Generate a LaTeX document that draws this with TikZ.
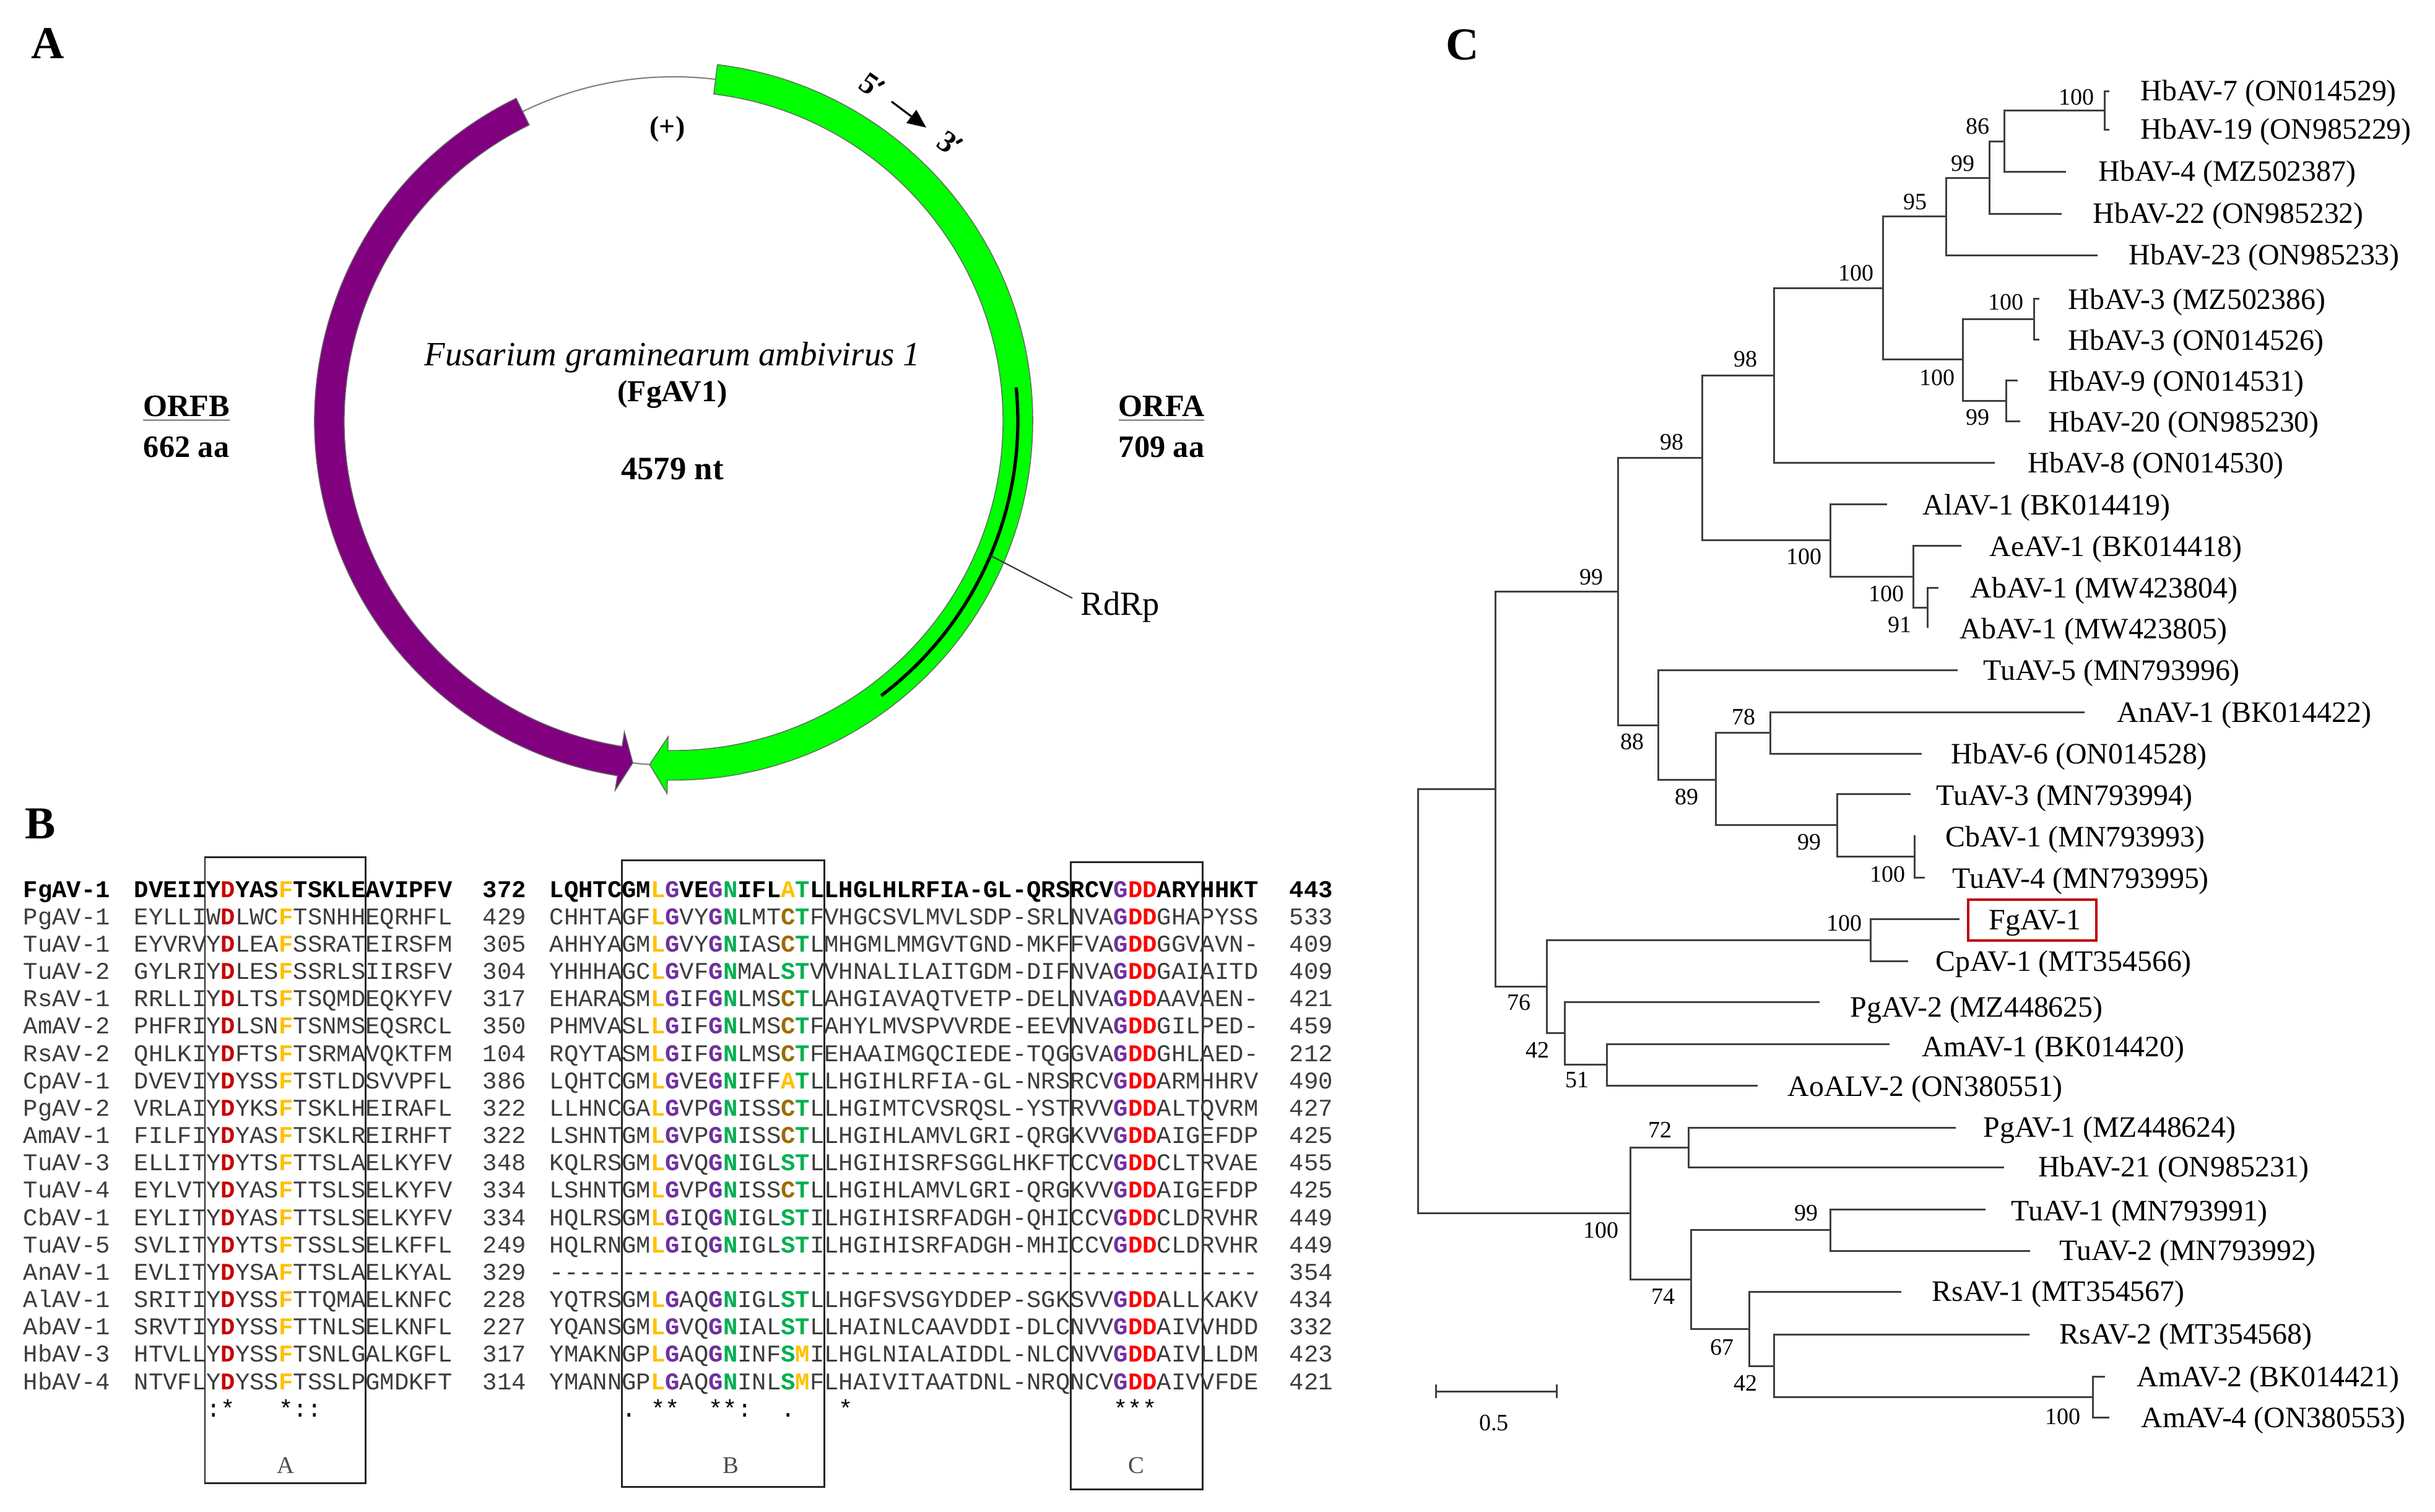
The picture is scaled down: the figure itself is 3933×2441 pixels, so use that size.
\documentclass[tikz,border=0pt]{standalone}
\usepackage{fontspec}
\setmainfont{Liberation Serif}
\setmonofont{Liberation Mono}
\usetikzlibrary{arrows.meta}
\definecolor{orfgreen}{RGB}{0,255,0}
\definecolor{orfpurple}{RGB}{128,0,128}
\definecolor{alred}{RGB}{200,0,0}
\definecolor{albright}{RGB}{255,0,0}
\definecolor{alyellow}{RGB}{255,192,0}
\definecolor{alpurple}{RGB}{112,48,160}
\definecolor{algreen}{RGB}{0,176,80}
\definecolor{albrown}{RGB}{156,108,0}
\definecolor{seqgray}{RGB}{60,60,60}
\definecolor{boxred}{RGB}{192,0,0}
\newcommand\hR[1]{\textcolor{alred}{\textbf{#1}}}
\newcommand\hRR[1]{\textcolor{albright}{\textbf{#1}}}
\newcommand\hY[1]{\textcolor{alyellow}{\textbf{#1}}}
\newcommand\hP[1]{\textcolor{alpurple}{\textbf{#1}}}
\newcommand\hG[1]{\textcolor{algreen}{\textbf{#1}}}
\newcommand\hB[1]{\textcolor{albrown}{\textbf{#1}}}
\newcommand\arow[7][seq]{%
  \pgfmathsetmacro\ry{1449+44.17*#2}%
  \node[#1] (nm#2) at (37,\ry) {#3};
  \node[#1] (sa#2) at (216,\ry) {#4};
  \node[#1] (na#2) at (779,\ry) {#5};
  \node[#1] (sb#2) at (887,\ry) {#6};
  \node[#1] (nb#2) at (2082,\ry) {#7};
}
\tikzset{
  seq/.style={anchor=base west, inner sep=0, text=seqgray, font=\ttfamily\fontsize{11.07}{12}\selectfont},
  seqb/.style={seq, text=black, font=\ttfamily\bfseries\fontsize{11.07}{12}\selectfont},
  tree/.style={draw=black!75, line width=0.85pt},
  leaf/.style={anchor=base west, inner sep=0, font=\fontsize{13.6}{15}\selectfont},
  bs/.style={inner sep=0, font=\fontsize{10.8}{12}\selectfont},
  panel/.style={inner sep=0, font=\fontsize{21}{24}\selectfont\bfseries},
  gtext/.style={inner sep=0, font=\fontsize{14.3}{17}\selectfont},
  motif/.style={draw=black!85, line width=0.85pt},
}
\begin{document}
\begin{tikzpicture}[x=0.01cm, y=-0.01cm]
\useasboundingbox (0,0) rectangle (3933,2441);

% ---------------- Panel labels
\node[panel] (pA) at (77,70) {A};
\node[panel] (pB) at (65,1330) {B};
\node[panel] (pC) at (2362,72) {C};

% ---------------- Panel A: genome map
\begin{scope}[shift={(1088,680)}, x=0.01cm, y=0.01cm]
  \draw[gray, line width=0.6pt] (0,0) circle[radius=556];
  \filldraw[fill=orfgreen, draw=black!60, line width=0.4pt]
    (83:580) arc[start angle=83, end angle=-91, radius=580]
    -- (-91:602) -- (-94:556) -- (-91:510) -- (-91:532)
    arc[start angle=-91, end angle=83, radius=532] -- cycle;
  \filldraw[fill=orfpurple, draw=black!60, line width=0.4pt]
    (116:580) arc[start angle=116, end angle=261, radius=580]
    -- (261:604) -- (263.2:556) -- (261:508) -- (261:532)
    arc[start angle=261, end angle=116, radius=532] -- cycle;
  \draw[line width=1.5pt] (5.6:556) arc[start angle=5.6, end angle=-52.9, radius=556];
  \coordinate (rd1) at (-23:556);
\end{scope}
\coordinate (rd2) at (1732,966);
\draw[black!80, line width=0.6pt] (rd1) -- (rd2);
\node[gtext, anchor=west, font=\fontsize{15.5}{18}\selectfont] (rdrp) at (1745,980) {RdRp};

\node[gtext, font=\fontsize{13}{15}\selectfont\bfseries] (plus) at (1078,208) {(+)};
\node[gtext, font=\fontsize{15.6}{18}\selectfont\itshape] (fus) at (1086,577) {Fusarium graminearum ambivirus 1};
\node[gtext, font=\fontsize{14}{17}\selectfont\bfseries] (fgav) at (1086,637) {(FgAV1)};
\node[gtext, font=\fontsize{15}{17}\selectfont\bfseries] (nt) at (1086,757) {4579 nt};
\node[gtext, font=\fontsize{14.3}{17}\selectfont\bfseries] (orfb) at (301,660) {\underline{ORFB}};
\node[gtext, font=\fontsize{14.3}{17}\selectfont\bfseries] (orfbaa) at (301,722) {662 aa};
\node[gtext, font=\fontsize{14.3}{17}\selectfont\bfseries] (orfa) at (1876,660) {\underline{ORFA}};
\node[gtext, font=\fontsize{14.3}{17}\selectfont\bfseries] (orfaaa) at (1876,722) {709 aa};
% 5' -> 3' (primes drawn as small strokes)
\begin{scope}[shift={(1404,136)}, rotate=-35]
  \node[gtext, transform shape, font=\fontsize{14}{17}\selectfont\bfseries] (p5) at (0,0) {5};
  \draw[line width=1.4pt] (13,-7) -- (18,-17);
\end{scope}
\begin{scope}[shift={(1530,229)}, rotate=-35]
  \node[gtext, transform shape, font=\fontsize{14}{17}\selectfont\bfseries] (p3) at (0,0) {3};
  \draw[line width=1.4pt] (13,-7) -- (18,-17);
\end{scope}
\coordinate (ar1) at (1440,164);
\coordinate (ar2) at (1496,206);
\draw[line width=0.9pt, -{Triangle[length=3mm, width=2.6mm]}] (ar1) -- (ar2);

% ---------------- Panel B: alignment
\draw[motif] (331,1384) rectangle (590,2395);
\draw[motif] (1004,1389) rectangle (1331,2401);
\draw[motif] (1729,1392) rectangle (1942,2405);
\node[inner sep=0, text=black!70, font=\fontsize{11}{13}\selectfont] (mA) at (461,2367) {A};
\node[inner sep=0, text=black!70, font=\fontsize{11}{13}\selectfont] (mB) at (1180,2367) {B};
\node[inner sep=0, text=black!70, font=\fontsize{11}{13}\selectfont] (mC) at (1835,2367) {C};

\arow[seqb]{0}{FgAV-1}{DVEIIY\hR{D}YAS\hY{F}TSKLEAVIPFV}{372}{LQHTCGM\hY{L}\hP{G}VE\hP{G}\hG{N}IFL\hY{A}\hG{T}LLHGLHLRFIA-GL-QRSRCV\hP{G}\hRR{DD}ARYHHKT}{443}
\arow{1}{PgAV-1}{EYLLIW\hR{D}LWC\hY{F}TSNHHEQRHFL}{429}{CHHTAGF\hY{L}\hP{G}VY\hP{G}\hG{N}LMT\hB{C}\hG{T}FVHGCSVLMVLSDP-SRLNVA\hP{G}\hRR{DD}GHAPYSS}{533}
\arow{2}{TuAV-1}{EYVRVY\hR{D}LEA\hY{F}SSRATEIRSFM}{305}{AHHYAGM\hY{L}\hP{G}VY\hP{G}\hG{N}IAS\hB{C}\hG{T}LMHGMLMMGVTGND-MKFFVA\hP{G}\hRR{DD}GGVAVN-}{409}
\arow{3}{TuAV-2}{GYLRIY\hR{D}LES\hY{F}SSRLSIIRSFV}{304}{YHHHAGC\hY{L}\hP{G}VF\hP{G}\hG{N}MAL\hG{S}\hG{T}VVHNALILAITGDM-DIFNVA\hP{G}\hRR{DD}GAIAITD}{409}
\arow{4}{RsAV-1}{RRLLIY\hR{D}LTS\hY{F}TSQMDEQKYFV}{317}{EHARASM\hY{L}\hP{G}IF\hP{G}\hG{N}LMS\hB{C}\hG{T}LAHGIAVAQTVETP-DELNVA\hP{G}\hRR{DD}AAVAEN-}{421}
\arow{5}{AmAV-2}{PHFRIY\hR{D}LSN\hY{F}TSNMSEQSRCL}{350}{PHMVASL\hY{L}\hP{G}IF\hP{G}\hG{N}LMS\hB{C}\hG{T}FAHYLMVSPVVRDE-EEVNVA\hP{G}\hRR{DD}GILPED-}{459}
\arow{6}{RsAV-2}{QHLKIY\hR{D}FTS\hY{F}TSRMAVQKTFM}{104}{RQYTASM\hY{L}\hP{G}IF\hP{G}\hG{N}LMS\hB{C}\hG{T}FEHAAIMGQCIEDE-TQGGVA\hP{G}\hRR{DD}GHLAED-}{212}
\arow{7}{CpAV-1}{DVEVIY\hR{D}YSS\hY{F}TSTLDSVVPFL}{386}{LQHTCGM\hY{L}\hP{G}VE\hP{G}\hG{N}IFF\hY{A}\hG{T}LLHGIHLRFIA-GL-NRSRCV\hP{G}\hRR{DD}ARMHHRV}{490}
\arow{8}{PgAV-2}{VRLAIY\hR{D}YKS\hY{F}TSKLHEIRAFL}{322}{LLHNCGA\hY{L}\hP{G}VP\hP{G}\hG{N}ISS\hB{C}\hG{T}LLHGIMTCVSRQSL-YSTRVV\hP{G}\hRR{DD}ALTQVRM}{427}
\arow{9}{AmAV-1}{FILFIY\hR{D}YAS\hY{F}TSKLREIRHFT}{322}{LSHNTGM\hY{L}\hP{G}VP\hP{G}\hG{N}ISS\hB{C}\hG{T}LLHGIHLAMVLGRI-QRGKVV\hP{G}\hRR{DD}AIGEFDP}{425}
\arow{10}{TuAV-3}{ELLITY\hR{D}YTS\hY{F}TTSLAELKYFV}{348}{KQLRSGM\hY{L}\hP{G}VQ\hP{G}\hG{N}IGL\hG{S}\hG{T}LLHGIHISRFSGGLHKFTCCV\hP{G}\hRR{DD}CLTRVAE}{455}
\arow{11}{TuAV-4}{EYLVTY\hR{D}YAS\hY{F}TTSLSELKYFV}{334}{LSHNTGM\hY{L}\hP{G}VP\hP{G}\hG{N}ISS\hB{C}\hG{T}LLHGIHLAMVLGRI-QRGKVV\hP{G}\hRR{DD}AIGEFDP}{425}
\arow{12}{CbAV-1}{EYLITY\hR{D}YAS\hY{F}TTSLSELKYFV}{334}{HQLRSGM\hY{L}\hP{G}IQ\hP{G}\hG{N}IGL\hG{S}\hG{T}ILHGIHISRFADGH-QHICCV\hP{G}\hRR{DD}CLDRVHR}{449}
\arow{13}{TuAV-5}{SVLITY\hR{D}YTS\hY{F}TSSLSELKFFL}{249}{HQLRNGM\hY{L}\hP{G}IQ\hP{G}\hG{N}IGL\hG{S}\hG{T}ILHGIHISRFADGH-MHICCV\hP{G}\hRR{DD}CLDRVHR}{449}
\arow{14}{AnAV-1}{EVLITY\hR{D}YSA\hY{F}TTSLAELKYAL}{329}{-------------------------------------------------}{354}
\arow{15}{AlAV-1}{SRITIY\hR{D}YSS\hY{F}TTQMAELKNFC}{228}{YQTRSGM\hY{L}\hP{G}AQ\hP{G}\hG{N}IGL\hG{S}\hG{T}LLHGFSVSGYDDEP-SGKSVV\hP{G}\hRR{DD}ALLKAKV}{434}
\arow{16}{AbAV-1}{SRVTIY\hR{D}YSS\hY{F}TTNLSELKNFL}{227}{YQANSGM\hY{L}\hP{G}VQ\hP{G}\hG{N}IAL\hG{S}\hG{T}LLHAINLCAAVDDI-DLCNVV\hP{G}\hRR{DD}AIVVHDD}{332}
\arow{17}{HbAV-3}{HTVLLY\hR{D}YSS\hY{F}TSNLGALKGFL}{317}{YMAKNGP\hY{L}\hP{G}AQ\hP{G}\hG{N}INF\hG{S}\hY{M}ILHGLNIALAIDDL-NLCNVV\hP{G}\hRR{DD}AIVLLDM}{423}
\arow{18}{HbAV-4}{NTVFLY\hR{D}YSS\hY{F}TSSLPGMDKFT}{314}{YMANNGP\hY{L}\hP{G}AQ\hP{G}\hG{N}INL\hG{S}\hY{M}FLHAIVITAATDNL-NRQNCV\hP{G}\hRR{DD}AIVVFDE}{421}

\foreach \k/\c in {5/:,6/*,10/*,11/:,12/:}
  \node[seq, text=black] (ca\k) at ({216+23.35*\k},2288) {\c};
\foreach \k/\c in {5/.,7/*,8/*,11/*,12/*,13/:,16/.,20/*,39/*,40/*,41/*}
  \node[seq, text=black] (cb\k) at ({887+23.35*\k},2288) {\c};

% ---------------- Panel C: tree
\foreach \n/\x/\y in {R/2290/1616, N2415/2415/1274, N2613/2613/955, N2749/2749/739,
  N2865/2865/606, N3041/3041/465, N3143/3143/349, N3213/3213/287, N3237/3237/228,
  N3399/3399/178, N3170/3170/580, N3285/3285/515, N3240/3240/647, N2956/2956/872,
  N3090/3090/931, N3113/3113/981, N2678/2678/1171, N2771/2771/1259, N2859/2859/1183,
  N2967/2967/1332, N3092/3092/1383, N2498/2498/1593, N3021/3021/1518, N2527/2527/1668,
  N2595/2595/1719, N2633/2633/1959, N2727/2727/1853, N2731/2731/2066, N2956b/2956/1986,
  N2825/2825/2146, N2865b/2865/2206, N3380/3380/2256}
  \coordinate (\n) at (\x,\y);
\foreach \n/\x/\y in {HbAVseven/3407/147, HbAVnineteen/3407/209, HbAVfour/3337/277,
  HbAVtwentytwo/3330/345, HbAVtwentythree/3388/412, HbAVthreea/3294/482, HbAVthreeb/3294/548,
  HbAVnine/3259/614, HbAVtwenty/3263/680, HbAVeight/3222/747, AlAV/3048/814, AeAV/3168/881,
  AbAVa/3131/949, AbAVb/3113/1014, TuAVfive/3162/1082, AnAV/3367/1150, HbAVsix/3104/1217,
  TuAVthree/3086/1282, CbAV/3094/1350, TuAVfour/3109/1417, FgAV/3165/1484, CpAV/3082/1552,
  PgAVtwo/2939/1618, AmAVone/3052/1686, AoALV/2839/1753, PgAVone/3159/1821, HbAVtwentyone/3237/1885,
  TuAVone/3207/1953, TuAVtwo/3279/2020, RsAVone/3071/2086, RsAVtwo/3278/2155, AmAVtwo/3400/2223,
  AmAVfour/3407/2289}
  \coordinate (\n) at (\x,\y);
\foreach \p/\c in {R/N2415, R/N2633, N2415/N2613, N2415/N2498, N2613/N2749, N2613/N2678,
  N2749/N2865, N2749/N2956, N2865/N3041, N2865/HbAVeight, N3041/N3143, N3041/N3170,
  N3143/N3213, N3143/HbAVtwentythree, N3213/N3237, N3213/HbAVtwentytwo, N3237/N3399,
  N3237/HbAVfour, N3399/HbAVseven, N3399/HbAVnineteen, N3170/N3285, N3170/N3240,
  N3285/HbAVthreea, N3285/HbAVthreeb, N3240/HbAVnine, N3240/HbAVtwenty, N2956/AlAV,
  N2956/N3090, N3090/AeAV, N3090/N3113, N3113/AbAVa, N3113/AbAVb, N2678/TuAVfive,
  N2678/N2771, N2771/N2859, N2771/N2967, N2859/AnAV, N2859/HbAVsix, N2967/TuAVthree,
  N2967/N3092, N3092/CbAV, N3092/TuAVfour, N2498/N3021, N2498/N2527, N3021/FgAV,
  N3021/CpAV, N2527/PgAVtwo, N2527/N2595, N2595/AmAVone, N2595/AoALV, N2633/N2727,
  N2633/N2731, N2727/PgAVone, N2727/HbAVtwentyone, N2731/N2956b, N2731/N2825,
  N2956b/TuAVone, N2956b/TuAVtwo, N2825/RsAVone, N2825/N2865b, N2865b/RsAVtwo,
  N2865b/N3380, N3380/AmAVtwo, N3380/AmAVfour}
  \draw[tree] (\p) |- (\c);

\foreach \n/\x/\y/\t in {t1/3457/162/HbAV-7 (ON014529), t2/3457/224/HbAV-19 (ON985229),
  t3/3389/292/HbAV-4 (MZ502387), t4/3380/360/HbAV-22 (ON985232), t5/3438/427/HbAV-23 (ON985233),
  t6/3340/499/HbAV-3 (MZ502386), t7/3340/565/HbAV-3 (ON014526), t8/3308/631/HbAV-9 (ON014531),
  t9/3308/697/HbAV-20 (ON985230), t10/3275/763/HbAV-8 (ON014530), t11/3105/831/AlAV-1 (BK014419),
  t12/3213/898/AeAV-1 (BK014418), t13/3182/965/AbAV-1 (MW423804), t14/3165/1031/AbAV-1 (MW423805),
  t15/3203/1098/TuAV-5 (MN793996), t16/3419/1166/AnAV-1 (BK014422), t17/3151/1233/HbAV-6 (ON014528),
  t18/3127/1300/TuAV-3 (MN793994), t19/3142/1367/CbAV-1 (MN793993), t20/3153/1434/TuAV-4 (MN793995),
  t22/3126/1568/CpAV-1 (MT354566), t23/2988/1642/PgAV-2 (MZ448625), t24/3104/1706/AmAV-1 (BK014420),
  t25/2887/1770/AoALV-2 (ON380551), t26/3203/1836/PgAV-1 (MZ448624), t27/3292/1900/HbAV-21 (ON985231),
  t28/3248/1971/TuAV-1 (MN793991), t29/3326/2035/TuAV-2 (MN793992), t30/3120/2101/RsAV-1 (MT354567),
  t31/3326/2170/RsAV-2 (MT354568), t32/3451/2239/AmAV-2 (BK014421), t33/3458/2305/AmAV-4 (ON380553)}
  \node[leaf] (\n) at (\x,\y) {\t};
\node[leaf] (t21) at (3212,1501) {FgAV-1};
\draw[boxred, line width=1.2pt] (3179,1453) rectangle (3386,1519);

\foreach \n/\x/\y/\t in {b1/3354/157/100, b2/3194/204/86, b3/3170/264/99, b4/3093/326/95,
  b5/2998/441/100, b6/2819/580/98, b7/2700/714/98, b8/3240/488/100, b9/3129/610/100,
  b10/3194/674/99, b11/2570/932/99, b12/2914/899/100, b13/3047/959/100, b14/3068/1009/91,
  b15/2636/1198/88, b16/2724/1287/89, b17/2816/1158/78, b18/2922/1360/99, b19/3049/1412/100,
  b20/2979/1491/100, b21/2453/1619/76, b22/2483/1696/42, b23/2547/1744/51, b24/2586/1987/100,
  b25/2681/1825/72, b26/2686/2094/74, b27/2917/1959/99, b28/2781/2176/67, b29/2819/2234/42,
  b30/3332/2288/100}
  \node[bs] (\n) at (\x,\y) {\t};

\coordinate (sb1) at (2319,2247);
\coordinate (sb2) at (2514,2247);
\draw[tree] (sb1) -- (sb2);
\draw[tree] (2319,2236) -- (2319,2258);
\draw[tree] (2514,2236) -- (2514,2258);
\node[bs] (sbl) at (2413,2298) {0.5};
\end{tikzpicture}
\end{document}
